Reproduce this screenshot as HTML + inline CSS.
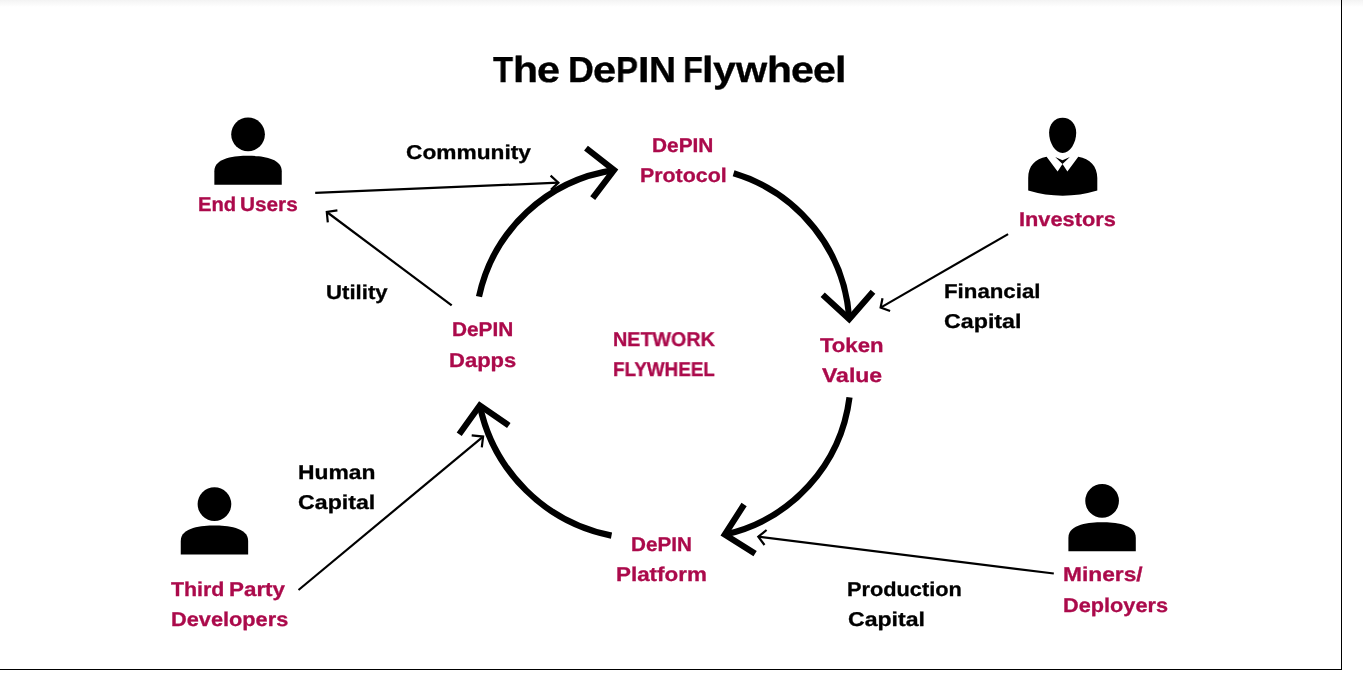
<!DOCTYPE html>
<html><head><meta charset="utf-8"><title>The DePIN Flywheel</title>
<style>
html,body{margin:0;padding:0;background:#fff;}
body{width:1363px;height:681px;position:relative;overflow:hidden;font-family:"Liberation Sans",sans-serif;}
.shade{position:absolute;left:0;top:0;width:1363px;height:7px;background:linear-gradient(#f3f3f3,#fff);}
.br{position:absolute;left:1341px;top:0;width:1px;height:670px;background:#000;}
.bb{position:absolute;left:0;top:669px;width:1342px;height:1px;background:#000;}
.t{text-rendering:geometricPrecision;position:absolute;white-space:nowrap;font-weight:bold;transform-origin:0 0;will-change:transform;}
svg{position:absolute;left:0;top:0;}
</style></head><body>
<div class="shade"></div>
<div class="br"></div><div class="bb"></div>
<svg width="1363" height="681" viewBox="0 0 1363 681">
<circle cx="248.05" cy="134.35" r="16.85"/><path d="M214.35,184.85 L214.35,171.35 C214.35,157.35 236.05,155.85 248.05,155.85 C260.05,155.85 281.75,157.35 281.75,171.35 L281.75,184.85 Z"/>
<circle cx="214.45" cy="504.1" r="16.85"/><path d="M180.75,554.60 L180.75,541.10 C180.75,527.10 202.45,525.60 214.45,525.60 C226.45,525.60 248.15,527.10 248.15,541.10 L248.15,554.60 Z"/>
<circle cx="1102.1" cy="500.85" r="16.85"/><path d="M1068.40,551.35 L1068.40,537.85 C1068.40,523.85 1090.10,522.35 1102.10,522.35 C1114.10,522.35 1135.80,523.85 1135.80,537.85 L1135.80,551.35 Z"/>
<path d="M1062.6,117.7 C1070.5,117.7 1076.2,124 1076.2,132.5 C1076.2,143 1070,153 1062.6,153 C1055.2,153 1049.1,143 1049.1,132.5 C1049.1,124 1054.7,117.7 1062.6,117.7 Z"/>
<path d="M1046.6,156.8 L1057.6,171.4 L1062.5,164.1 L1067.4,171.4 L1078.3,156.8 C1090,159 1097.3,166 1097.3,178 L1097.3,190.6 Q1062.7,201 1028.2,190.6 L1028.2,178 C1028.2,166 1035,159 1046.6,156.8 Z"/>
<path d="M1055.2,157 L1062.5,160.3 L1069.9,157 L1062.5,164.1 Z"/>
<path d="M479.0,296.6 A162.4,162.4 0 0 1 614.0,170.1" fill="none" stroke="#000" stroke-width="6.2"/>
<polyline points="586.0,148.1 614.0,170.1 592.7,198.2" fill="none" stroke="#000" stroke-width="6.2" stroke-linejoin="miter" stroke-miterlimit="10"/>
<path d="M733.6,173.3 A162.8,162.8 0 0 1 849.2,319.0" fill="none" stroke="#000" stroke-width="6.2"/>
<polyline points="822.7,294.7 849.2,319.0 873.0,291.8" fill="none" stroke="#000" stroke-width="6.2" stroke-linejoin="miter" stroke-miterlimit="10"/>
<path d="M849.5,397.3 A161.4,161.4 0 0 1 724.8,534.6" fill="none" stroke="#000" stroke-width="6.2"/>
<polyline points="744.1,504.5 724.8,534.6 755.1,553.7" fill="none" stroke="#000" stroke-width="6.2" stroke-linejoin="miter" stroke-miterlimit="10"/>
<path d="M611.5,535.6 A167.7,167.7 0 0 1 479.8,405.5" fill="none" stroke="#000" stroke-width="6.2"/>
<polyline points="459.2,434.3 479.8,405.5 508.8,425.5" fill="none" stroke="#000" stroke-width="6.2" stroke-linejoin="miter" stroke-miterlimit="10"/>
<line x1="315.2" y1="192.9" x2="558.4" y2="182.65" stroke="#000" stroke-width="2.2"/>
<polyline points="550.6,175.6 558.4,182.65 550.9,189.7" fill="none" stroke="#000" stroke-width="2.2" stroke-linejoin="miter"/>
<line x1="451.7" y1="305.4" x2="326.8" y2="212.0" stroke="#000" stroke-width="2.2"/>
<polyline points="337.4,210.4 326.8,212.0 327.8,222.4" fill="none" stroke="#000" stroke-width="2.2" stroke-linejoin="miter"/>
<line x1="1008.1" y1="234.1" x2="880.6" y2="307.6" stroke="#000" stroke-width="2.2"/>
<polyline points="882.5,298.2 880.6,307.6 890.1,311.0" fill="none" stroke="#000" stroke-width="2.2" stroke-linejoin="miter"/>
<line x1="1053.8" y1="573.5" x2="758.3" y2="536.7" stroke="#000" stroke-width="2.2"/>
<polyline points="766.6,530.0 758.3,536.7 764.5,545.0" fill="none" stroke="#000" stroke-width="2.2" stroke-linejoin="miter"/>
<line x1="298.5" y1="590.0" x2="483.1" y2="436.6" stroke="#000" stroke-width="2.2"/>
<polyline points="471.7,435.4 483.1,436.6 481.8,447.4" fill="none" stroke="#000" stroke-width="2.2" stroke-linejoin="miter"/>
</svg>
<div class="t" style="left:492.93px;top:53.00px;font-size:35.8px;line-height:35.8px;color:#000;-webkit-text-stroke:0.3px #000;transform:scale(0.9186,1.012)">T</div>
<div class="t" style="left:513.25px;top:53.00px;font-size:35.8px;line-height:35.8px;color:#000;-webkit-text-stroke:0.3px #000;transform:scale(1.1453,1.012)">h</div>
<div class="t" style="left:537.38px;top:53.00px;font-size:35.8px;line-height:35.8px;color:#000;-webkit-text-stroke:0.3px #000;transform:scale(1.1560,1.012)">e</div>
<div class="t" style="left:567.65px;top:53.00px;font-size:35.8px;line-height:35.8px;color:#000;-webkit-text-stroke:0.3px #000;transform:scale(1.0013,1.012)">D</div>
<div class="t" style="left:592.87px;top:53.00px;font-size:35.8px;line-height:35.8px;color:#000;-webkit-text-stroke:0.3px #000;transform:scale(1.1617,1.012)">e</div>
<div class="t" style="left:615.93px;top:53.00px;font-size:35.8px;line-height:35.8px;color:#000;-webkit-text-stroke:0.3px #000;transform:scale(0.9233,1.012)">P</div>
<div class="t" style="left:637.52px;top:53.00px;font-size:35.8px;line-height:35.8px;color:#000;-webkit-text-stroke:0.3px #000;transform:scale(1.1516,1.012)">I</div>
<div class="t" style="left:648.55px;top:53.00px;font-size:35.8px;line-height:35.8px;color:#000;-webkit-text-stroke:0.3px #000;transform:scale(1.0469,1.012)">N</div>
<div class="t" style="left:683.06px;top:53.00px;font-size:35.8px;line-height:35.8px;color:#000;-webkit-text-stroke:0.3px #000;transform:scale(0.9109,1.012)">F</div>
<div class="t" style="left:702.33px;top:53.00px;font-size:35.8px;line-height:35.8px;color:#000;-webkit-text-stroke:0.3px #000;transform:scale(1.1522,1.012)">l</div>
<div class="t" style="left:713.10px;top:53.00px;font-size:35.8px;line-height:35.8px;color:#000;-webkit-text-stroke:0.3px #000;transform:scale(1.1493,1.012)">y</div>
<div class="t" style="left:735.77px;top:53.00px;font-size:35.8px;line-height:35.8px;color:#000;-webkit-text-stroke:0.3px #000;transform:scale(1.1202,1.012)">w</div>
<div class="t" style="left:766.56px;top:53.00px;font-size:35.8px;line-height:35.8px;color:#000;-webkit-text-stroke:0.3px #000;transform:scale(1.1396,1.012)">h</div>
<div class="t" style="left:790.69px;top:53.00px;font-size:35.8px;line-height:35.8px;color:#000;-webkit-text-stroke:0.3px #000;transform:scale(1.1502,1.012)">e</div>
<div class="t" style="left:812.79px;top:53.00px;font-size:35.8px;line-height:35.8px;color:#000;-webkit-text-stroke:0.3px #000;transform:scale(1.1502,1.012)">e</div>
<div class="t" style="left:835.13px;top:53.00px;font-size:35.8px;line-height:35.8px;color:#000;-webkit-text-stroke:0.3px #000;transform:scale(1.1522,1.012)">l</div>
<div class="t" style="left:197.78px;top:196.00px;font-size:19.9px;line-height:19.9px;color:#ab0a4b;-webkit-text-stroke:0.3px #ab0a4b;transform:scale(1.0157,1.0)">End</div>
<div class="t" style="left:240.00px;top:196.00px;font-size:19.9px;line-height:19.9px;color:#ab0a4b;-webkit-text-stroke:0.3px #ab0a4b;transform:scale(1.0445,1.0)">Users</div>
<div class="t" style="left:406.26px;top:144.00px;font-size:19.9px;line-height:19.9px;color:#000;-webkit-text-stroke:0.3px #000;transform:scale(1.1419,1.0)">Community</div>
<div class="t" style="left:651.84px;top:137.00px;font-size:19.9px;line-height:19.9px;color:#ab0a4b;-webkit-text-stroke:0.3px #ab0a4b;transform:scale(1.0478,1.0)">DePIN</div>
<div class="t" style="left:639.51px;top:167.00px;font-size:19.9px;line-height:19.9px;color:#ab0a4b;-webkit-text-stroke:0.3px #ab0a4b;transform:scale(1.0741,1.0)">Protocol</div>
<div class="t" style="left:1019.48px;top:211.00px;font-size:19.9px;line-height:19.9px;color:#ab0a4b;-webkit-text-stroke:0.3px #ab0a4b;transform:scale(1.0943,1.0)">Investors</div>
<div class="t" style="left:326.02px;top:284.00px;font-size:19.9px;line-height:19.9px;color:#000;-webkit-text-stroke:0.3px #000;transform:scale(1.1147,1.0)">Utility</div>
<div class="t" style="left:451.74px;top:321.00px;font-size:19.9px;line-height:19.9px;color:#ab0a4b;-webkit-text-stroke:0.3px #ab0a4b;transform:scale(1.0460,1.0)">DePIN</div>
<div class="t" style="left:448.87px;top:352.00px;font-size:19.9px;line-height:19.9px;color:#ab0a4b;-webkit-text-stroke:0.3px #ab0a4b;transform:scale(1.1069,1.0)">Dapps</div>
<div class="t" style="left:612.71px;top:331.00px;font-size:19.9px;line-height:19.9px;color:#ab0a4b;-webkit-text-stroke:0.3px #ab0a4b;transform:scale(0.9909,1.0)">NETWORK</div>
<div class="t" style="left:613.06px;top:361.00px;font-size:19.9px;line-height:19.9px;color:#ab0a4b;-webkit-text-stroke:0.3px #ab0a4b;transform:scale(0.9461,1.0)">FLYWHEEL</div>
<div class="t" style="left:819.91px;top:337.00px;font-size:19.9px;line-height:19.9px;color:#ab0a4b;-webkit-text-stroke:0.3px #ab0a4b;transform:scale(1.1116,1.0)">Token</div>
<div class="t" style="left:821.58px;top:367.00px;font-size:19.9px;line-height:19.9px;color:#ab0a4b;-webkit-text-stroke:0.3px #ab0a4b;transform:scale(1.1578,1.0)">Value</div>
<div class="t" style="left:943.76px;top:283.00px;font-size:19.9px;line-height:19.9px;color:#000;-webkit-text-stroke:0.3px #000;transform:scale(1.1192,1.0)">Financial</div>
<div class="t" style="left:943.94px;top:313.00px;font-size:19.9px;line-height:19.9px;color:#000;-webkit-text-stroke:0.3px #000;transform:scale(1.1685,1.0)">Capital</div>
<div class="t" style="left:298.12px;top:464.00px;font-size:19.9px;line-height:19.9px;color:#000;-webkit-text-stroke:0.3px #000;transform:scale(1.1485,1.0)">Human</div>
<div class="t" style="left:298.35px;top:494.00px;font-size:19.9px;line-height:19.9px;color:#000;-webkit-text-stroke:0.3px #000;transform:scale(1.1654,1.0)">Capital</div>
<div class="t" style="left:171.22px;top:581.00px;font-size:19.9px;line-height:19.9px;color:#ab0a4b;-webkit-text-stroke:0.3px #ab0a4b;transform:scale(1.0718,1.0)">Third</div>
<div class="t" style="left:228.65px;top:581.00px;font-size:19.9px;line-height:19.9px;color:#ab0a4b;-webkit-text-stroke:0.3px #ab0a4b;transform:scale(1.1256,1.0)">Party</div>
<div class="t" style="left:170.69px;top:611.00px;font-size:19.9px;line-height:19.9px;color:#ab0a4b;-webkit-text-stroke:0.3px #ab0a4b;transform:scale(1.0933,1.0)">Developers</div>
<div class="t" style="left:631.15px;top:536.00px;font-size:19.9px;line-height:19.9px;color:#ab0a4b;-webkit-text-stroke:0.3px #ab0a4b;transform:scale(1.0389,1.0)">DePIN</div>
<div class="t" style="left:616.15px;top:566.00px;font-size:19.9px;line-height:19.9px;color:#ab0a4b;-webkit-text-stroke:0.3px #ab0a4b;transform:scale(1.1255,1.0)">Platform</div>
<div class="t" style="left:1062.73px;top:566.00px;font-size:19.9px;line-height:19.9px;color:#ab0a4b;-webkit-text-stroke:0.3px #ab0a4b;transform:scale(1.1434,1.0)">Miners/</div>
<div class="t" style="left:1062.79px;top:597.00px;font-size:19.9px;line-height:19.9px;color:#ab0a4b;-webkit-text-stroke:0.3px #ab0a4b;transform:scale(1.0914,1.0)">Deployers</div>
<div class="t" style="left:847.49px;top:581.00px;font-size:19.9px;line-height:19.9px;color:#000;-webkit-text-stroke:0.3px #000;transform:scale(1.0936,1.0)">Production</div>
<div class="t" style="left:847.65px;top:611.00px;font-size:19.9px;line-height:19.9px;color:#000;-webkit-text-stroke:0.3px #000;transform:scale(1.1607,1.0)">Capital</div>
</body></html>
